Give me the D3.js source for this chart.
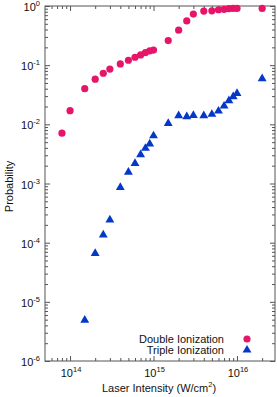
<!DOCTYPE html>
<html>
<head>
<meta charset="utf-8">
<script src="https://cdn.jsdelivr.net/npm/d3@7"></script>
<style>
  body { margin: 0; background: #fff; }
  svg { display: block; font-family: "Liberation Sans", Arial, sans-serif; }
</style>
</head>
<body>
<svg id="chart" width="277" height="397"></svg>
<script>
// laser intensity (W/cm^2)
const intensityDouble = [8e13, 1e14, 1.5e14, 2e14, 2.5e14, 3e14, 4e14, 5e14, 6e14, 7e14, 8e14, 9e14,
  1e15, 1.5e15, 2e15, 2.5e15, 3e15, 4e15, 5e15, 6e15, 7e15, 8e15, 9e15, 1e16, 2e16];
const probDouble = [0.0071, 0.017, 0.040, 0.058, 0.073, 0.086, 0.105, 0.121, 0.136, 0.149, 0.163, 0.174,
  0.18, 0.26, 0.39, 0.56, 0.73, 0.82, 0.83, 0.865, 0.88, 0.90, 0.91, 0.91, 0.91];

const intensityTriple = [1.5e14, 2e14, 2.5e14, 3e14, 4e14, 5e14, 6e14, 7e14, 8e14, 9e14,
  1e15, 1.5e15, 2e15, 2.5e15, 3e15, 4e15, 5e15, 6e15, 7e15, 8e15, 9e15, 1e16, 2e16];
const probTriple = [4.9e-6, 6.6e-5, 1.35e-4, 2.42e-4, 8.6e-4, 1.55e-3, 2.18e-3, 3.07e-3, 3.94e-3, 4.66e-3,
  6.4e-3, 0.0104, 0.014, 0.0135, 0.0142, 0.014, 0.0148, 0.0168, 0.0204, 0.0251, 0.0293, 0.0334, 0.059];

const xMajor = [14, 15, 16];
const yMajor = [0, -1, -2, -3, -4, -5, -6];
const legendLabels = ["Double Ionization", "Triple Ionization"];

const pink = "#e6156a", blue = "#0537c9", axisCol = "#555";

const W = 277, H = 397;
const m = { top: 6, right: 2, bottom: 36, left: 45 };
const iw = W - m.left - m.right, ih = H - m.top - m.bottom;

const svg = d3.select("#chart");
const g = svg.append("g").attr("transform", `translate(${m.left},${m.top})`);

const x = d3.scaleLog().domain([Math.pow(10, 13.70), Math.pow(10, 16.455)]).range([0, iw]);
const y = d3.scaleLog().domain([1e-6, 1]).range([ih, 0]);

const isMajor = v => Math.abs(Math.log10(v) - Math.round(Math.log10(v))) < 1e-6;

function styleAxis(sel, sign, horiz) {
  sel.select(".domain").remove();
  sel.selectAll(".tick line")
    .attr("stroke", axisCol)
    .attr(horiz ? "y2" : "x2", d => sign * (isMajor(d) ? 5 : 3));
  sel.selectAll(".tick text").remove();
}

g.append("g").attr("transform", `translate(0,${ih})`)
  .call(d3.axisBottom(x).tickValues(x.ticks()).tickFormat(""))
  .call(s => styleAxis(s, -1, true));
g.append("g")
  .call(d3.axisTop(x).tickValues(x.ticks()).tickFormat(""))
  .call(s => styleAxis(s, 1, true));
g.append("g")
  .call(d3.axisLeft(y).tickValues(y.ticks()).tickFormat(""))
  .call(s => styleAxis(s, 1, false));
g.append("g").attr("transform", `translate(${iw},0)`)
  .call(d3.axisRight(y).tickValues(y.ticks()).tickFormat(""))
  .call(s => styleAxis(s, -1, false));

g.append("rect").attr("width", iw).attr("height", ih)
  .attr("fill", "none").attr("stroke", axisCol).attr("stroke-width", 1);

// tick labels
const xl = g.append("g").selectAll("text").data(xMajor).join("text")
  .attr("x", d => x(Math.pow(10, d)) + 1).attr("y", ih + 16)
  .attr("text-anchor", "middle").attr("font-size", 11).attr("fill", "#111");
xl.append("tspan").text("10");
xl.append("tspan").attr("font-size", 7.5).attr("dy", -5).text(d => d);

const yl = g.append("g").selectAll("text").data(yMajor).join("text")
  .attr("x", -5).attr("y", d => y(Math.pow(10, d)) + 5)
  .attr("text-anchor", "end").attr("font-size", 11).attr("fill", "#111");
yl.append("tspan").text("10");
yl.append("tspan").attr("font-size", 7.5).attr("dy", -5).text(d => d);

// axis titles
const xt = svg.append("text").attr("x", m.left + iw / 2 - 1).attr("y", H - 5)
  .attr("text-anchor", "middle").attr("font-size", 11).attr("fill", "#111");
xt.append("tspan").text("Laser Intensity (W/cm");
xt.append("tspan").attr("font-size", 7.5).attr("dy", -5).text("2");
xt.append("tspan").attr("dy", 5).text(")");

svg.append("text").attr("transform", `translate(13,${m.top + ih / 2 + 3}) rotate(-90)`)
  .attr("text-anchor", "middle").attr("font-size", 11).attr("fill", "#111").text("Probability");

// data marks
const tri = d3.symbol().type(d3.symbolTriangle).size(34);

g.append("g").selectAll("circle").data(intensityDouble).join("circle")
  .attr("cx", (d, i) => x(d)).attr("cy", (d, i) => y(probDouble[i]))
  .attr("r", 3.6).attr("fill", pink);

g.append("g").selectAll("path").data(intensityTriple).join("path")
  .attr("transform", (d, i) => `translate(${x(d)},${y(probTriple[i])})`)
  .attr("d", tri).attr("fill", blue);

// legend
const lg = g.append("g").attr("transform", `translate(${iw - 51},${ih - 22})`);
lg.selectAll("text").data(legendLabels).join("text")
  .attr("x", 0).attr("y", (d, i) => i * 11 + 4)
  .attr("text-anchor", "end").attr("font-size", 11).attr("fill", "#111").text(d => d);
lg.append("circle").attr("cx", 23).attr("cy", 0).attr("r", 3.6).attr("fill", pink);
lg.append("path").attr("transform", "translate(23,11)").attr("d", tri).attr("fill", blue);
</script>
</body>
</html>
